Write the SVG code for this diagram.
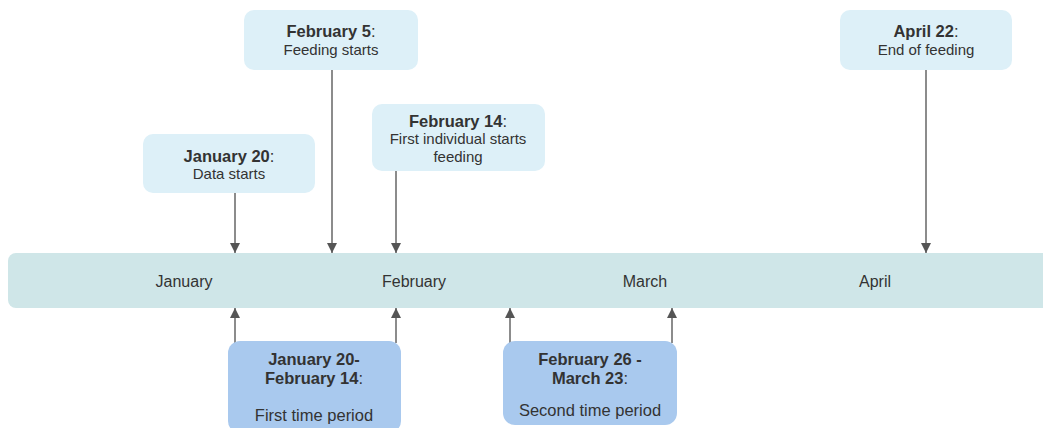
<svg xmlns="http://www.w3.org/2000/svg" width="1043" height="428" viewBox="0 0 1043 428">
<defs>
<marker id="ah" viewBox="0 0 10 10" refX="10" refY="5" markerWidth="10" markerHeight="10" markerUnits="userSpaceOnUse" orient="auto">
<path d="M0,0 L10,5 L0,10 Z" fill="#555"/>
</marker>
</defs>
<style>
text{font-family:"Liberation Sans",Arial,sans-serif;font-size:15px;fill:#333;text-anchor:middle}
.b{font-weight:bold;font-size:16.5px}
.m{font-size:16px}
.p{font-size:16.5px}
.ev{fill:#ddf0f8}
.pe{fill:#a9c9ee}
.bar{fill:#cfe6e8}
.c{stroke:#666;stroke-width:1.5;fill:none;marker-end:url(#ah)}
</style>
<rect width="1043" height="428" fill="#fff"/>
<g id="timeline">
<rect class="bar" x="8" y="253" width="1050" height="55" rx="8"/>
<text class="m" x="184" y="287">January</text>
<text class="m" x="414" y="287">February</text>
<text class="m" x="645" y="287">March</text>
<text class="m" x="875" y="287">April</text>
</g>
<g id="connectors">
<line class="c" x1="235" y1="193" x2="235" y2="253"/>
<line class="c" x1="332" y1="70" x2="332" y2="253"/>
<line class="c" x1="396" y1="171" x2="396" y2="253"/>
<line class="c" x1="926" y1="70" x2="926" y2="253"/>
<line class="c" x1="235" y1="343" x2="235" y2="308"/>
<line class="c" x1="396" y1="343" x2="396" y2="308"/>
<line class="c" x1="510" y1="343" x2="510" y2="308"/>
<line class="c" x1="672" y1="343" x2="672" y2="308"/>
</g>
<g id="jan20">
<rect class="ev" x="143" y="134" width="172" height="59" rx="10"/>
<text x="229" y="162"><tspan class="b">January 20</tspan><tspan class="p">:</tspan></text>
<text x="229" y="179">Data starts</text>
</g>
<g id="feb5">
<rect class="ev" x="244" y="10" width="174" height="60" rx="10"/>
<text x="331" y="37"><tspan class="b">February 5</tspan><tspan class="p">:</tspan></text>
<text x="331" y="55">Feeding starts</text>
</g>
<g id="feb14">
<rect class="ev" x="372" y="104" width="173" height="67" rx="10"/>
<text x="458" y="127"><tspan class="b">February 14</tspan><tspan class="p">:</tspan></text>
<text x="458" y="144">First individual starts</text>
<text x="458" y="161.5">feeding</text>
</g>
<g id="apr22">
<rect class="ev" x="840" y="10" width="172" height="60" rx="10"/>
<text x="926" y="37"><tspan class="b">April 22</tspan><tspan class="p">:</tspan></text>
<text x="926" y="55">End of feeding</text>
</g>
<g id="period1">
<rect class="pe" x="228" y="341" width="173" height="92" rx="12"/>
<text x="314" y="365" class="b">January 20-</text>
<text x="314" y="384"><tspan class="b">February 14</tspan><tspan class="p">:</tspan></text>
<text x="314" y="421" class="p">First time period</text>
</g>
<g id="period2">
<rect class="pe" x="503" y="341" width="174" height="84" rx="12"/>
<text x="590" y="365" class="b">February 26 -</text>
<text x="590" y="384"><tspan class="b">March 23</tspan><tspan class="p">:</tspan></text>
<text x="590" y="416" class="p">Second time period</text>
</g>
</svg>
